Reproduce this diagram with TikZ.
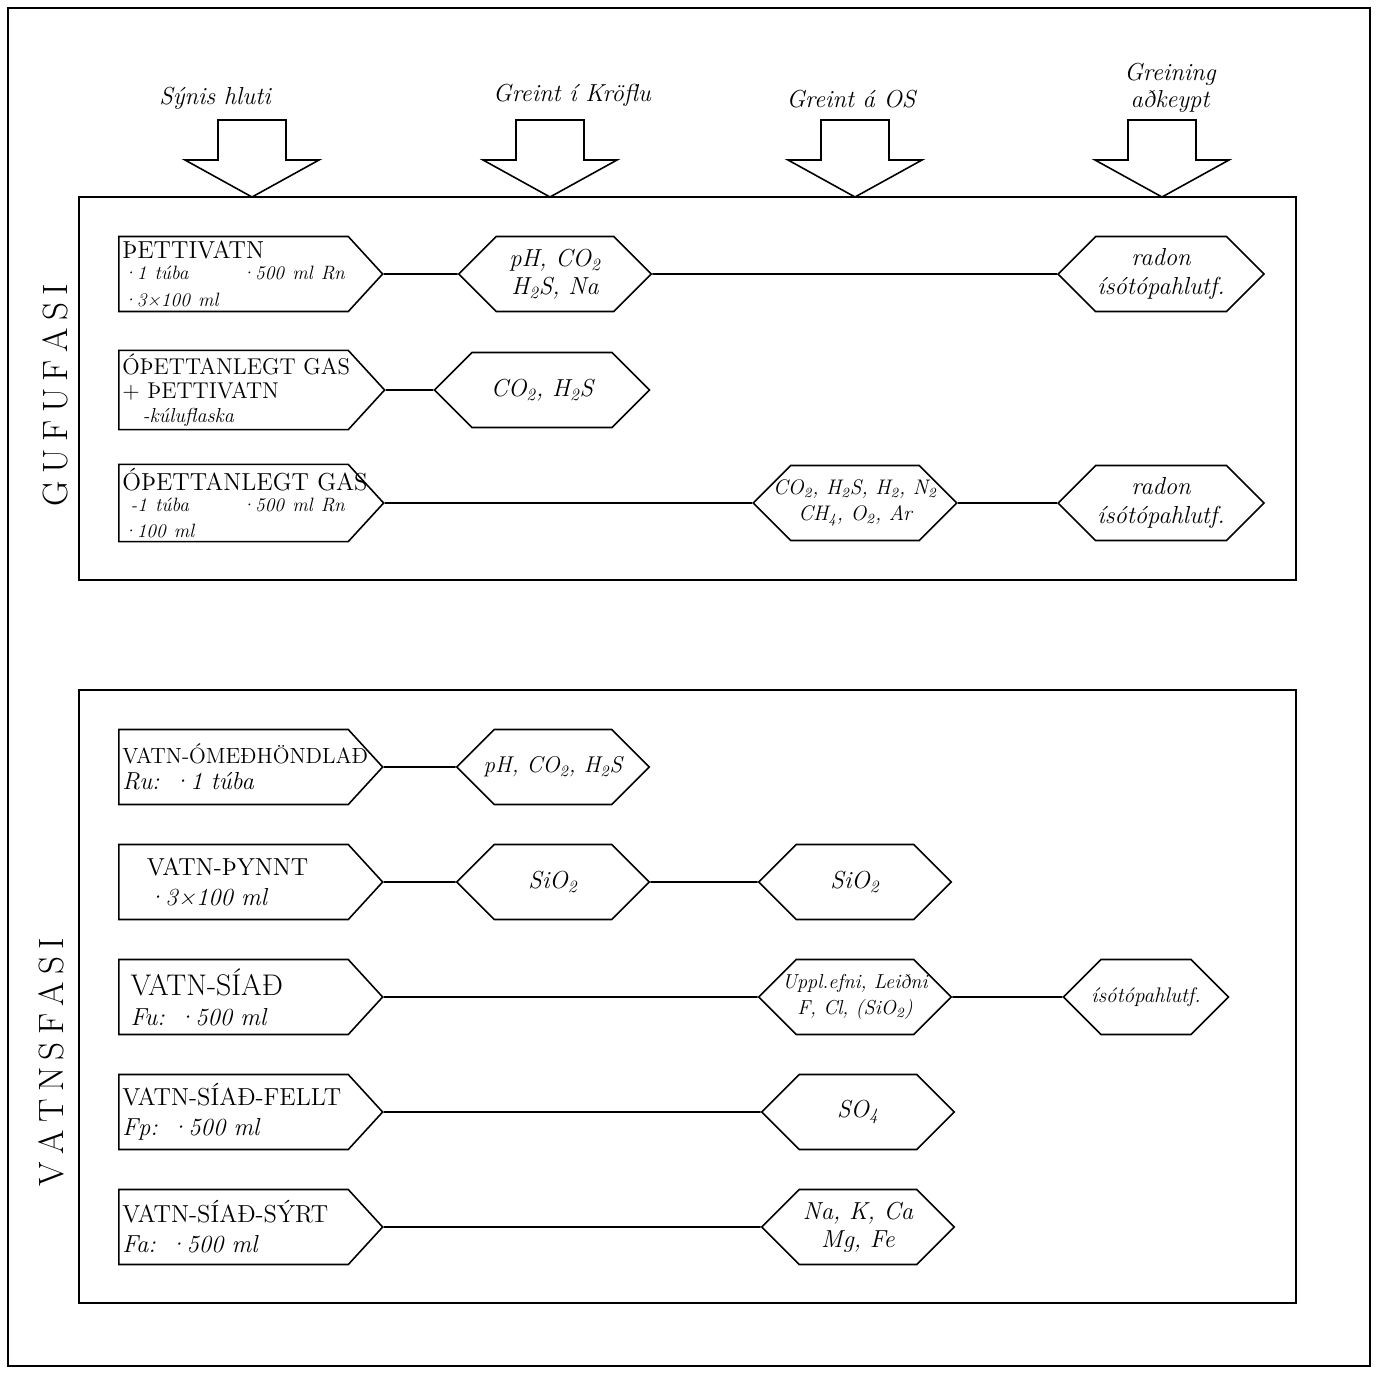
\documentclass[tikz,border=0pt]{standalone}
\usepackage{fontspec}
\usetikzlibrary{shapes.symbols,positioning}
\newcommand{\phgap}{\kern4.2pt}
\newcommand{\wide}[1]{\makebox[\linewidth][l]{#1}}
\tikzset{
  srcbox/.style={draw,shape=signal,signal to=east,signal pointer angle=95,
    minimum height=1.5cm,text width=4.45cm,inner sep=2pt,align=left,
    anchor=west,font=\fontsize{14}{15}\selectfont},
  hexa/.style={draw,shape=signal,signal to=east and west,signal pointer angle=90,
    minimum width=3.85cm,minimum height=1.5cm,inner sep=1pt,align=center,
    font=\itshape\fontsize{14}{16}\selectfont},
  tight/.style={inner xsep=-10pt,font=\itshape\fontsize{12}{15}\selectfont},
  link/.style={line width=0.9pt},
  phase/.style={rotate=90,font=\fontsize{20}{22}\selectfont},
  head/.style={font=\itshape\fontsize{14}{15}\selectfont,align=center},
}
\begin{document}
\begin{tikzpicture}[x=0.02cm,y=-0.02cm,line width=0.9pt]
  \useasboundingbox (0,0) rectangle (1381,1374);
  \draw[line width=1.6pt] (8,8) rectangle (1370,1366);
  % the two panels
  \draw (79,197) rectangle (1296,580);
  \draw (79,690) rectangle (1296,1303);
  \node[phase] (gufu) at (55,395) {G\phgap U\phgap F\phgap U\phgap F\phgap A\phgap S\phgap I};
  \node[phase] (vatn) at (51,1062) {V\phgap A\phgap T\phgap N\phgap S\phgap F\phgap A\phgap S\phgap I};
  % column heads and block arrows
  \node[head] (hsyni) at (215,98) {Sýnis hluti};
  \node[head] (hkro) at (572,95) {Greint í Kröflu};
  \node[head] (hos) at (851,99) {Greint á OS};
  \node[head] (hadk) at (1170,88) {Greining\\aðkeypt};
  \foreach \ax in {252,550,855,1162}
    \draw (\ax-34,120) -- (\ax+34,120) -- (\ax+34,160) -- (\ax+67,160) -- (\ax,197)
      -- (\ax-67,160) -- (\ax-34,160) -- cycle;
  % gufufasi
  \node[srcbox] (g1) at (118,274) {ÞETTIVATN\\
    {\itshape\fontsize{11}{12}\selectfont ·1 túba\hfill ·500 ml Rn\\ ·3×100 ml}};
  \node[hexa] (g1a) at (555,274) {pH, CO\textsubscript{2}\\H\textsubscript{2}S, Na};
  \node[hexa] (g1c) at (1161,274) {radon\\ísótópahlutf.};
  \node[srcbox,font=\fontsize{13}{13.5}\selectfont] (g2) at (118,390) {\wide{ÓÞETTANLEGT GAS}\\+ ÞETTIVATN\\
    {\itshape\fontsize{11.5}{12}\selectfont\quad -kúluflaska}};
  \node[hexa,minimum width=4.3cm] (g2a) at (542,390) {CO\textsubscript{2}, H\textsubscript{2}S};
  \node[srcbox] (g3) at (118,503) {\wide{ÓÞETTANLEGT GAS}\\
    {\itshape\fontsize{11}{12}\selectfont\ -1 túba\hfill ·500 ml Rn\\ ·100 ml}};
  \node[hexa,tight] (g3b) at (855,503) {CO\textsubscript{2}, H\textsubscript{2}S, H\textsubscript{2}, N\textsubscript{2}\\CH\textsubscript{4}, O\textsubscript{2}, Ar};
  \node[hexa] (g3c) at (1161,503) {radon\\ísótópahlutf.};
  \draw[link] (g1) -- (g1a) (g1a) -- (g1c);
  \draw[link] (g2) -- (g2a);
  \draw[link] (g3) -- (g3b) (g3b) -- (g3c);
  % vatnsfasi
  \node[srcbox] (v1) at (118,767) {\wide{\fontsize{12.5}{14}\selectfont VATN-ÓMEÐHÖNDLAÐ}\\{\itshape Ru: ·1 túba}};
  \node[hexa,tight,font=\itshape\fontsize{13}{15}\selectfont] (v1a) at (553,767) {pH, CO\textsubscript{2}, H\textsubscript{2}S};
  \node[srcbox] (v2) at (118,882) {\quad VATN-ÞYNNT\\[2pt]{\itshape\quad ·3×100 ml}};
  \node[hexa] (v2a) at (553,882) {SiO\textsubscript{2}};
  \node[hexa] (v2b) at (855,882) {SiO\textsubscript{2}};
  \node[srcbox] (v3) at (118,997) {{\fontsize{17}{19}\selectfont\ VATN-SÍAÐ}\\[2pt]{\itshape\ Fu: ·500 ml}};
  \node[hexa,tight,font=\itshape\fontsize{11.5}{15}\selectfont] (v3b) at (855,997) {Uppl.efni, Leiðni\\F, Cl, (SiO\textsubscript{2})};
  \node[hexa,tight,minimum width=3.3cm,font=\itshape\fontsize{12}{14}\selectfont] (v3c) at (1146,997) {ísótópahlutf.};
  \node[srcbox] (v4) at (118,1112) {VATN-SÍAÐ-FELLT\\[2pt]{\itshape Fp: ·500 ml}};
  \node[hexa] (v4b) at (858,1112) {SO\textsubscript{4}};
  \node[srcbox] (v5) at (118,1227) {VATN-SÍAÐ-SÝRT\\[2pt]{\itshape Fa: ·500 ml}};
  \node[hexa] (v5b) at (858,1227) {Na, K, Ca\\Mg, Fe};
  \draw[link] (v1) -- (v1a);
  \draw[link] (v2) -- (v2a) (v2a) -- (v2b);
  \draw[link] (v3) -- (v3b) (v3b) -- (v3c);
  \draw[link] (v4) -- (v4b);
  \draw[link] (v5) -- (v5b);
\end{tikzpicture}
\end{document}
